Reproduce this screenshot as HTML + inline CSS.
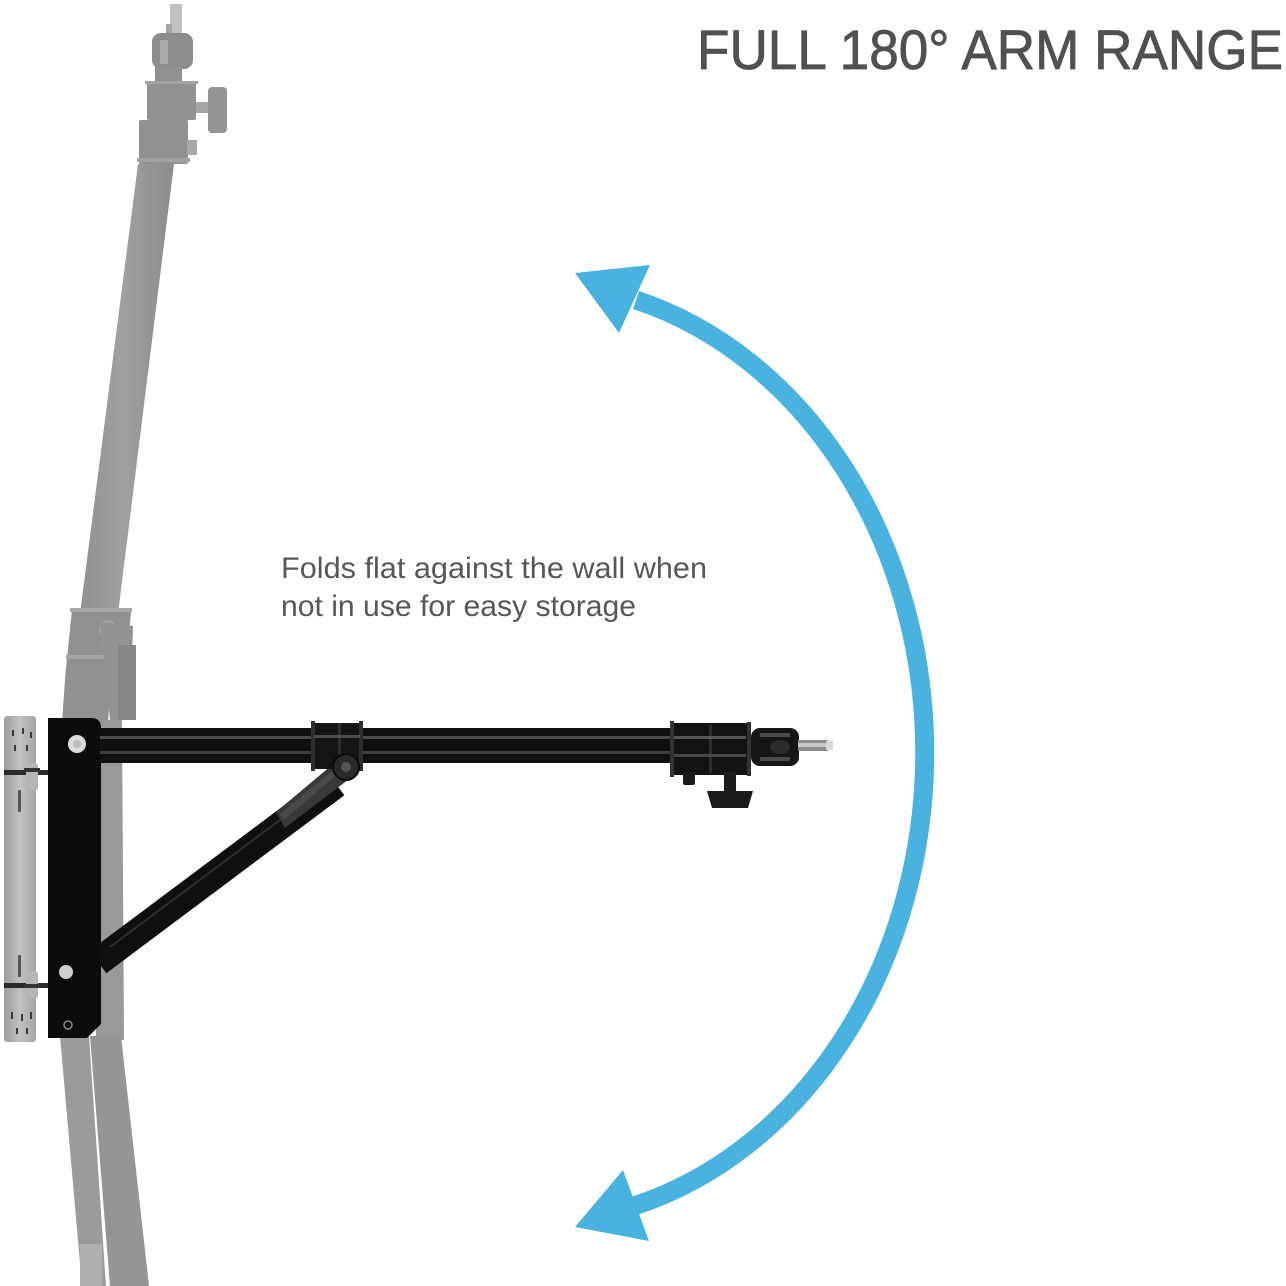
<!DOCTYPE html>
<html>
<head>
<meta charset="utf-8">
<style>
  html,body{margin:0;padding:0;background:#fff;}
  svg{display:block;}
</style>
</head>
<body>
<svg width="1286" height="1286" viewBox="0 0 1286 1286" xmlns="http://www.w3.org/2000/svg">
  <defs>
    <linearGradient id="plate" x1="0" x2="1" y1="0" y2="0">
      <stop offset="0" stop-color="#9c9c9c"/>
      <stop offset="0.5" stop-color="#c2c2c2"/>
      <stop offset="1" stop-color="#a5a5a5"/>
    </linearGradient>
    <linearGradient id="pole" x1="0" x2="1" y1="0" y2="0">
      <stop offset="0" stop-color="#919191"/>
      <stop offset="0.45" stop-color="#a0a0a0"/>
      <stop offset="1" stop-color="#8c8c8c"/>
    </linearGradient>
  </defs>
  <rect width="1286" height="1286" fill="#ffffff"/>

  <!-- ===== Grey light stand (background) ===== -->
  <g fill="#939393">
    <rect x="170" y="4" width="12" height="30" fill="#c2c2c2"/>
    <rect x="166" y="24" width="6" height="10" fill="#a6a6a6"/>
    <rect x="152" y="33" width="41" height="36" rx="9" fill="#8c8c8c"/>
    <rect x="160" y="40" width="8" height="24" fill="#ababab"/>
    <rect x="155" y="67" width="27" height="16" fill="#909090"/>
    <rect x="147" y="82" width="49" height="38" rx="2" fill="#929292"/>
    <rect x="145" y="81" width="53" height="3" fill="#a3a3a3"/>
    <rect x="196" y="102" width="12" height="11" fill="#a6a6a6"/>
    <rect x="208" y="87" width="19" height="46" rx="4" fill="#959595"/>
    <rect x="139" y="120" width="49" height="44" rx="2" fill="#919191"/>
    <rect x="137" y="158" width="53" height="4" fill="#a3a3a3"/>
    <rect x="187" y="140" width="10" height="15" fill="#a9a9a9"/>
    <polygon points="138,164 174,164 118,614 80,614" fill="url(#pole)"/>
    <polygon points="72,610 131,610 127,668 66,668" fill="#909090"/>
    <rect x="70" y="608" width="62" height="4" fill="#a4a4a4"/>
    <rect x="66" y="655" width="62" height="4" fill="#a4a4a4"/>
    <circle cx="108" cy="629" r="9" fill="#a1a1a1"/>
    <polygon points="100,622 133,626 130,720 110,720" fill="#939393"/>
    <polygon points="118,645 136,645 136,720 118,720" fill="#868686"/>
    <polygon points="66,666 112,666 108,722 62,722" fill="#929292"/>
    <polygon points="96,720 122,720 124,1040 96,1040" fill="#999999"/>
    <polygon points="60,1036 89,1036 106,1286 82,1286" fill="#9b9b9b"/>
    <polygon points="90,1036 121,1036 149,1286 110,1286" fill="#959595"/>
    <rect x="80" y="1244" width="22" height="42" fill="#afafaf"/>
  </g>

  <!-- ===== Wall plate ===== -->
  <rect x="4" y="716" width="32" height="326" rx="3" fill="url(#plate)"/>
  <g fill="#3a3a3a">
    <rect x="12" y="730" width="2" height="6"/>
    <rect x="22" y="728" width="2" height="6"/>
    <rect x="30" y="732" width="2" height="6"/>
    <rect x="14" y="745" width="2" height="6"/>
    <rect x="26" y="745" width="2" height="6"/>
    <rect x="18" y="790" width="3" height="22" rx="1" fill="#555"/>
    <rect x="18" y="955" width="3" height="22" rx="1" fill="#555"/>
    <rect x="11" y="1012" width="2" height="7"/>
    <rect x="21" y="1014" width="2" height="7"/>
    <rect x="30" y="1012" width="2" height="7"/>
    <rect x="16" y="1028" width="2" height="6"/>
    <rect x="26" y="1028" width="2" height="6"/>
  </g>
  <g>
    <rect x="4" y="770" width="44" height="5" fill="#2a2a2a"/>
    <rect x="26" y="764" width="12" height="26" rx="2" fill="#b5b5b5"/>
    <rect x="24" y="768" width="16" height="4" fill="#333"/>
    <rect x="4" y="983" width="44" height="5" fill="#2a2a2a"/>
    <rect x="26" y="972" width="12" height="26" rx="2" fill="#b5b5b5"/>
    <rect x="24" y="984" width="16" height="4" fill="#333"/>
  </g>

  <!-- ===== Diagonal brace ===== -->
  <line x1="98" y1="962" x2="336" y2="784" stroke="#0f0f0f" stroke-width="28"/>
  <line x1="110" y1="947" x2="320" y2="790" stroke="#3c3c3c" stroke-width="2" opacity="0.7"/>
  <polygon points="276,812 338,760 353,776 285,828" fill="#393939"/>
  <polygon points="280,814 338,766 342,770 284,820" fill="#555" opacity="0.6"/>

  <!-- ===== Black wall bracket ===== -->
  <path d="M48,718 L91,718 Q101,718 101,728 L101,1024 L87,1038 L48,1038 Z" fill="#0c0c0c"/>
  <circle cx="77" cy="744" r="9" fill="#dcdcdc"/>
  <circle cx="77" cy="744" r="4" fill="#bdbdbd"/>
  <circle cx="66" cy="972" r="7" fill="#cfcfcf"/>
  <circle cx="68" cy="1025" r="4" fill="none" stroke="#8a8a8a" stroke-width="1.5"/>

  <!-- ===== Horizontal arm tube ===== -->
  <rect x="100" y="728" width="575" height="35" fill="#101010"/>
  <rect x="100" y="736" width="575" height="3" fill="#5a5a5a" opacity="0.8"/>
  <rect x="100" y="751" width="575" height="3" fill="#4a4a4a" opacity="0.8"/>

  <rect x="312" y="723" width="50" height="46" rx="3" fill="#151515"/>
  <rect x="311" y="721" width="4" height="50" fill="#2f2f2f"/>
  <rect x="338" y="723" width="3" height="46" fill="#2f2f2f"/>
  <rect x="359" y="721" width="4" height="50" fill="#2f2f2f"/>
  <rect x="314" y="735" width="46" height="3" fill="#5a5a5a" opacity="0.8"/>
  <circle cx="346" cy="767" r="13" fill="#2a2a2a" stroke="#0a0a0a" stroke-width="2"/>
  <circle cx="346" cy="767" r="5" fill="#555"/>

  <rect x="670" y="723" width="80" height="52" rx="3" fill="#131313"/>
  <rect x="670" y="721" width="4" height="56" fill="#333"/>
  <rect x="709" y="725" width="3" height="48" fill="#2e2e2e"/>
  <rect x="747" y="722" width="4" height="54" fill="#333"/>
  <rect x="674" y="736" width="72" height="3" fill="#666" opacity="0.8"/>
  <rect x="674" y="754" width="72" height="3" fill="#555" opacity="0.8"/>
  <rect x="683" y="772" width="12" height="13" rx="2" fill="#1a1a1a"/>
  <rect x="724" y="772" width="12" height="22" fill="#1c1c1c"/>
  <path d="M707,791 L753,791 L748,808 L712,808 Z" fill="#1a1a1a"/>
  <rect x="751" y="728" width="48" height="38" rx="9" fill="#161616"/>
  <rect x="760" y="733" width="30" height="4" fill="#4a4a4a"/>
  <rect x="760" y="757" width="30" height="4" fill="#4a4a4a"/>
  <ellipse cx="780" cy="747" rx="10" ry="7" fill="#2c2c2c"/>
  <rect x="798" y="740" width="30" height="11" fill="#8c8c8c"/>
  <rect x="798" y="743" width="30" height="4" fill="#c9c9c9"/>
  <rect x="826" y="741" width="7" height="9" fill="#d8d8d8"/>

  <!-- ===== Blue arc arrow ===== -->
  <path d="M636,300 A395 470 0 0 1 634,1206" fill="none" stroke="#4ab2df" stroke-width="19"/>
  <polygon points="575,273 650,265 619,333" fill="#4ab2df"/>
  <polygon points="575,1227 623,1170 649,1241" fill="#4ab2df"/>

  <!-- ===== Text ===== -->
  <text x="697" y="69" font-family="'Liberation Sans', sans-serif" font-size="56" fill="#505050" stroke="#505050" stroke-width="0.8" textLength="586" lengthAdjust="spacingAndGlyphs">FULL 180° ARM RANGE</text>
  <text x="281" y="578" font-family="'Liberation Sans', sans-serif" font-size="30" fill="#575757" textLength="426" lengthAdjust="spacingAndGlyphs">Folds flat against the wall when</text>
  <text x="281" y="616" font-family="'Liberation Sans', sans-serif" font-size="30" fill="#575757" textLength="355" lengthAdjust="spacingAndGlyphs">not in use for easy storage</text>
</svg>
</body>
</html>
